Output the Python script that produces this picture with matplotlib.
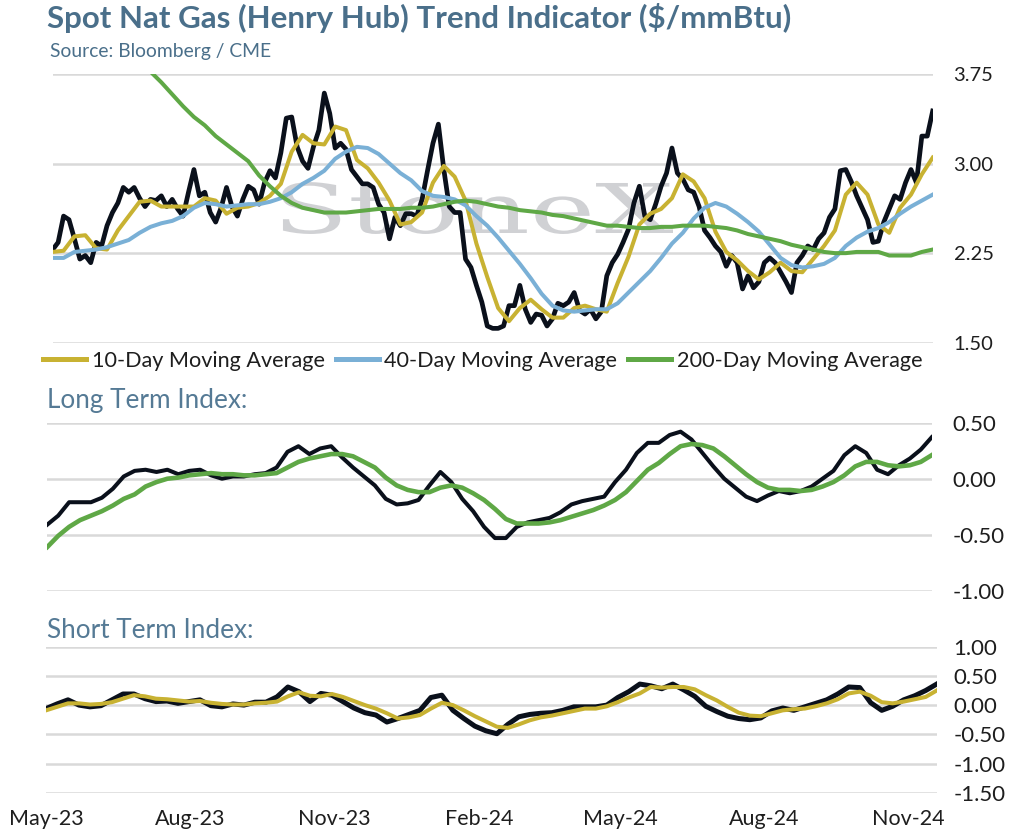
import numpy as np
import pandas as pd
import matplotlib
matplotlib.use('Agg')
import matplotlib.pyplot as plt
import matplotlib.dates as mdates
from matplotlib.ticker import FormatStrFormatter
from matplotlib.lines import Line2D
from matplotlib.textpath import TextPath
from matplotlib.patches import PathPatch
from matplotlib.font_manager import FontProperties
from matplotlib.transforms import Affine2D

plt.rcParams['font.family'] = 'Lato'
plt.rcParams['axes.unicode_minus'] = False

######## data ########
start = '2023-05-01'
end = '2024-11-19'

# spot Henry Hub, ~twice a week
spot = [2.28, 2.34, 2.56, 2.53, 2.37, 2.20, 2.23, 2.17, 2.34, 2.31,
        2.48, 2.59, 2.67, 2.80, 2.76, 2.80, 2.71, 2.64, 2.70, 2.69,
        2.73, 2.64, 2.70, 2.62, 2.56, 2.76, 2.95, 2.73, 2.76, 2.59,
        2.51, 2.63, 2.80, 2.64, 2.56, 2.70, 2.81, 2.78, 2.66, 2.84,
        2.94, 2.88, 3.09, 3.38, 3.39, 3.14, 3.02, 2.96, 3.14, 3.28,
        3.59, 3.42, 3.13, 3.17, 3.12, 2.95, 2.89, 2.83, 2.83, 2.80,
        2.66, 2.59, 2.37, 2.55, 2.48, 2.58, 2.58, 2.56, 2.70, 2.94,
        3.17, 3.33, 2.95, 2.64, 2.59, 2.59, 2.20, 2.13, 1.98, 1.84,
        1.64, 1.62, 1.62, 1.64, 1.81, 1.81, 1.98, 1.78, 1.67, 1.74,
        1.73, 1.64, 1.70, 1.83, 1.81, 1.84, 1.92, 1.77, 1.74, 1.78,
        1.70, 1.76, 2.06, 2.17, 2.24, 2.34, 2.45, 2.67, 2.81, 2.56,
        2.53, 2.66, 2.81, 2.92, 3.13, 2.92, 2.87, 2.78, 2.76, 2.64,
        2.44, 2.38, 2.31, 2.26, 2.14, 2.23, 2.17, 1.95, 2.06, 1.96,
        2.01, 2.17, 2.21, 2.17, 2.09, 2.01, 1.92, 2.17, 2.23, 2.31,
        2.28, 2.37, 2.42, 2.55, 2.62, 2.94, 2.95, 2.85, 2.73, 2.63,
        2.53, 2.34, 2.35, 2.51, 2.62, 2.73, 2.70, 2.84, 2.95, 2.84,
        3.23, 3.23, 3.44]

# weekly series
ma10 = [2.26, 2.27, 2.39, 2.40, 2.29, 2.28, 2.44, 2.56, 2.68, 2.69,
        2.64, 2.64, 2.64, 2.64, 2.71, 2.69, 2.58, 2.63, 2.64, 2.67,
        2.73, 2.83, 3.10, 3.24, 3.17, 3.16, 3.31, 3.28, 3.03, 2.96,
        2.84, 2.69, 2.49, 2.51, 2.59, 2.84, 2.98, 2.89, 2.69, 2.33,
        2.05, 1.79, 1.68, 1.79, 1.86, 1.78, 1.71, 1.71, 1.79, 1.81,
        1.78, 1.76, 2.00, 2.22, 2.49, 2.58, 2.62, 2.71, 2.91, 2.85,
        2.71, 2.43, 2.26, 2.19, 2.10, 2.03, 2.09, 2.17, 2.10, 2.09,
        2.20, 2.31, 2.44, 2.74, 2.84, 2.74, 2.49, 2.42, 2.63, 2.74,
        2.91, 3.05]
ma40 = [2.21, 2.21, 2.26, 2.27, 2.28, 2.30, 2.33, 2.36, 2.42, 2.47,
        2.50, 2.52, 2.56, 2.63, 2.67, 2.66, 2.64, 2.65, 2.66, 2.66,
        2.68, 2.71, 2.76, 2.83, 2.88, 2.94, 3.04, 3.10, 3.14, 3.13,
        3.08, 3.00, 2.92, 2.86, 2.77, 2.73, 2.72, 2.70, 2.65, 2.56,
        2.48, 2.38, 2.27, 2.16, 2.04, 1.91, 1.81, 1.77, 1.76, 1.77,
        1.78, 1.78, 1.83, 1.92, 2.01, 2.10, 2.21, 2.33, 2.42, 2.54,
        2.63, 2.67, 2.64, 2.58, 2.51, 2.43, 2.32, 2.21, 2.15, 2.13,
        2.14, 2.16, 2.21, 2.31, 2.38, 2.43, 2.46, 2.51, 2.58, 2.64,
        2.69, 2.74]
ma200 = [4.55, 4.46, 4.37, 4.29, 4.20, 4.12, 4.03, 3.95, 3.86, 3.77,
         3.68, 3.58, 3.48, 3.39, 3.32, 3.23, 3.16, 3.09, 3.02, 2.90,
         2.81, 2.73, 2.67, 2.63, 2.61, 2.59, 2.59, 2.59, 2.60, 2.61,
         2.62, 2.62, 2.62, 2.63, 2.63, 2.64, 2.66, 2.68, 2.69, 2.68,
         2.66, 2.64, 2.63, 2.61, 2.60, 2.59, 2.57, 2.56, 2.54, 2.52,
         2.50, 2.48, 2.48, 2.47, 2.46, 2.46, 2.47, 2.47, 2.48, 2.48,
         2.48, 2.47, 2.46, 2.44, 2.41, 2.39, 2.37, 2.35, 2.32, 2.30,
         2.28, 2.26, 2.25, 2.25, 2.26, 2.26, 2.26, 2.23, 2.23, 2.23,
         2.26, 2.28]

long_idx = [-0.41, -0.33, -0.21, -0.21, -0.21, -0.17, -0.09, 0.02, 0.07, 0.08,
            0.06, 0.08, 0.04, 0.07, 0.08, 0.03, 0.00, 0.02, 0.02, 0.04,
            0.05, 0.10, 0.24, 0.29, 0.22, 0.27, 0.29, 0.19, 0.10, 0.02,
            -0.06, -0.18, -0.23, -0.22, -0.19, -0.06, 0.06, -0.03, -0.18, -0.29,
            -0.43, -0.53, -0.53, -0.43, -0.39, -0.37, -0.35, -0.30, -0.23, -0.20,
            -0.18, -0.16, -0.03, 0.08, 0.23, 0.32, 0.32, 0.39, 0.42, 0.35,
            0.23, 0.11, 0.00, -0.08, -0.16, -0.20, -0.15, -0.11, -0.13, -0.11,
            -0.07, 0.00, 0.07, 0.21, 0.29, 0.23, 0.08, 0.04, 0.12, 0.18,
            0.26, 0.37]
long_sig = [-0.61, -0.51, -0.43, -0.37, -0.33, -0.29, -0.24, -0.18, -0.14, -0.07,
            -0.03, 0.00, 0.01, 0.03, 0.04, 0.05, 0.04, 0.04, 0.03, 0.03,
            0.04, 0.05, 0.10, 0.15, 0.18, 0.20, 0.22, 0.22, 0.20, 0.15,
            0.10, 0.01, -0.06, -0.10, -0.12, -0.12, -0.08, -0.06, -0.08, -0.13,
            -0.19, -0.27, -0.36, -0.40, -0.40, -0.40, -0.39, -0.37, -0.34, -0.31,
            -0.28, -0.24, -0.19, -0.12, -0.02, 0.08, 0.14, 0.22, 0.29, 0.31,
            0.30, 0.27, 0.20, 0.12, 0.04, -0.03, -0.08, -0.10, -0.10, -0.11,
            -0.10, -0.07, -0.03, 0.03, 0.11, 0.15, 0.15, 0.12, 0.11, 0.12,
            0.15, 0.21]

short_idx = [-0.06, 0.02, 0.09, 0.00, -0.03, -0.01, 0.09, 0.19, 0.19, 0.11,
             0.06, 0.07, 0.03, 0.06, 0.09, -0.01, -0.03, 0.02, 0.00, 0.05,
             0.05, 0.14, 0.31, 0.23, 0.06, 0.20, 0.17, 0.06, -0.05, -0.13,
             -0.17, -0.29, -0.23, -0.16, -0.09, 0.13, 0.17, -0.09, -0.23, -0.36,
             -0.44, -0.49, -0.33, -0.20, -0.16, -0.14, -0.13, -0.09, -0.03, -0.03,
             -0.03, 0.00, 0.13, 0.23, 0.36, 0.33, 0.28, 0.36, 0.26, 0.15,
             -0.02, -0.11, -0.19, -0.23, -0.25, -0.22, -0.10, -0.05, -0.09, -0.03,
             0.03, 0.09, 0.19, 0.31, 0.30, 0.04, -0.09, -0.02, 0.09, 0.16,
             0.25, 0.36]
short_sig = [-0.09, -0.03, 0.03, 0.03, 0.01, 0.02, 0.05, 0.11, 0.17, 0.15,
             0.11, 0.10, 0.08, 0.06, 0.07, 0.04, 0.02, 0.01, 0.01, 0.03,
             0.04, 0.06, 0.15, 0.22, 0.16, 0.15, 0.19, 0.14, 0.07, 0.00,
             -0.06, -0.14, -0.23, -0.21, -0.17, -0.06, 0.04, 0.00, -0.09, -0.19,
             -0.28, -0.37, -0.39, -0.33, -0.26, -0.21, -0.18, -0.14, -0.10, -0.06,
             -0.06, -0.02, 0.05, 0.13, 0.20, 0.31, 0.30, 0.31, 0.31, 0.27,
             0.17, 0.08, -0.03, -0.13, -0.18, -0.19, -0.14, -0.09, -0.07, -0.06,
             -0.02, 0.03, 0.10, 0.20, 0.23, 0.16, 0.05, 0.03, 0.06, 0.10,
             0.14, 0.25]

days = pd.date_range(start, end, periods=len(spot))
weeks = pd.date_range(start, end, periods=len(ma10))

######## colours ########
BLACK = '#0a101b'
GOLD = '#c8b232'
BLUE = '#7ab0d6'
GREEN = '#5fa846'
HEAD = '#4a6f8a'
LABEL = '#557a95'
GRID = '#d9d9d9'

W, H = 1011, 836


def box(x0, x1, y0, y1):
    return [x0 / W, 1 - y1 / H, (x1 - x0) / W, (y1 - y0) / H]


def style(ax, lim, ticks, size, pad):
    ax.set_xlim(weeks[0], weeks[-1])
    ax.set_ylim(lim)
    ax.set_yticks(ticks)
    ax.yaxis.tick_right()
    ax.yaxis.set_major_formatter(FormatStrFormatter('%.2f'))
    ax.tick_params(axis='y', length=0, pad=pad, labelsize=size, labelcolor='#1e1e1e')
    ax.tick_params(axis='x', length=0)
    for s in ax.spines.values():
        s.set_visible(False)
    ax.grid(axis='y', color=GRID, lw=1.8)
    ax.grid(axis='x', visible=False)
    ax.set_axisbelow(True)
    ax.set_facecolor('none')


fig = plt.figure(figsize=(W / 100, H / 100), dpi=100)
fig.patch.set_facecolor('white')

######## top panel: price and moving averages ########
ax1 = fig.add_axes(box(52.7, 932.7, 74, 342.7))
style(ax1, (1.5, 3.75), [1.5, 2.25, 3.0, 3.75], 14.5, 15)
ax1.set_xticks([])
ax1.set_zorder(1)
ax1.plot(days, spot, color=BLACK, lw=3.4, solid_joinstyle='round')
ax1.plot(weeks, ma10, color=GOLD, lw=2.9, solid_joinstyle='round')
ax1.plot(weeks, ma40, color=BLUE, lw=2.9, solid_joinstyle='round')
ax1.plot(weeks, ma200, color=GREEN, lw=2.9, solid_joinstyle='round')

# watermark, stretched sideways like the original
tp = TextPath((0, 0), 'StoneX', size=1, prop=FontProperties(family='DejaVu Serif'))
bb = tp.get_extents()
sx = 391 / bb.width
sy = 50 / 0.729
wm = PathPatch(tp, transform=Affine2D().scale(sx, sy).translate(282 - bb.x0 * sx, H - 233),
               facecolor='#d0d1d4', edgecolor='none', zorder=0.5)
fig.add_artist(wm)

handles = [Line2D([], [], color=GOLD, lw=3.6),
           Line2D([], [], color=BLUE, lw=3.6),
           Line2D([], [], color=GREEN, lw=3.6)]
fig.legend(handles, ['10-Day Moving Average', '40-Day Moving Average', '200-Day Moving Average'],
           loc='center left', bbox_to_anchor=(43 / W, 1 - 361 / H), ncol=3, frameon=False,
           fontsize=15.6, handlelength=2.0, handletextpad=0.25, columnspacing=0.5,
           borderpad=0, borderaxespad=0, labelcolor='#1e1e1e')

######## long term index ########
ax2 = fig.add_axes(box(47.3, 931.7, 422.7, 590.7))
style(ax2, (-1.0, 0.5), [-1.0, -0.5, 0.0, 0.5], 16, 15)
ax2.set_xticks([])
ax2.plot(weeks, long_idx, color=BLACK, lw=2.9, solid_joinstyle='round')
ax2.plot(weeks, long_sig, color=GREEN, lw=3.3, solid_joinstyle='round')

######## short term index ########
ax3 = fig.add_axes(box(46, 936.7, 646.7, 792.7))
style(ax3, (-1.5, 1.0), [-1.5, -1.0, -0.5, 0.0, 0.5, 1.0], 16, 12)
ax3.plot(weeks, short_idx, color=BLACK, lw=3.6, solid_joinstyle='round')
ax3.plot(weeks, short_sig, color=GOLD, lw=2.9, solid_joinstyle='round')
ax3.xaxis.set_major_locator(mdates.MonthLocator(bymonth=[2, 5, 8, 11]))
ax3.xaxis.set_major_formatter(mdates.DateFormatter('%b-%y'))
ax3.tick_params(axis='x', labelsize=15.5, pad=12, labelcolor='#1e1e1e')

######## texts ########
fig.text(47 / W, 1 - 18 / H, 'Spot Nat Gas (Henry Hub) Trend Indicator ($/mmBtu)',
         fontsize=22.5, fontweight='bold', color=HEAD, va='center', ha='left')
fig.text(50 / W, 1 - 52 / H, 'Source: Bloomberg / CME', fontsize=13.9, color=HEAD,
         va='center', ha='left')
fig.text(47 / W, 1 - 400 / H, 'Long Term Index:', fontsize=18.8, color=LABEL,
         va='center', ha='left')
fig.text(47 / W, 1 - 630 / H, 'Short Term Index:', fontsize=18.8, color=LABEL,
         va='center', ha='left')

fig.savefig('out.png', dpi=100, facecolor='white')
